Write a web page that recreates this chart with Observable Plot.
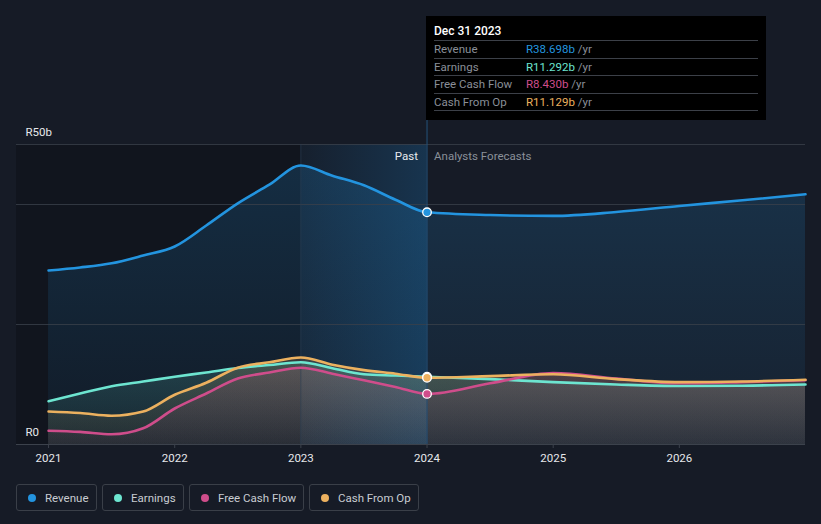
<!DOCTYPE html>
<html>
<head>
<meta charset="utf-8">
<script src="https://cdn.jsdelivr.net/npm/d3@7"></script>
<script src="https://cdn.jsdelivr.net/npm/@observablehq/plot@0.6"></script>
<style>
  html, body { margin: 0; padding: 0; background: #161b26; }
  body { width: 821px; height: 524px; position: relative; overflow: hidden; font-family: Roboto, "Open Sans", sans-serif; }
  #chart { position: absolute; left: 0; top: 0; }
  #tip { position: absolute; left: 426px; top: 16px; width: 340px; height: 104px; background: #000; box-sizing: border-box; padding: 0 8px; }
  #tip .title { color: #fff; font-size: 12px; font-weight: 500; height: 24px; line-height: 30px; border-bottom: 1px solid #3c4048; }
  #tip .row { height: 16.5px; line-height: 17px; font-size: 11.5px; border-bottom: 1px solid #3c4048; position: relative; color: #8a8f98; }
  #tip .row .v { position: absolute; left: 92px; top: 0; }
  #tip .row .u { color: #8a8f98; }
  #legend { position: absolute; left: 16px; top: 484px; display: flex; gap: 5px; }
  .item { height: 27px; box-sizing: border-box; border: 1px solid #3a3f48; border-radius: 3px; display: flex; align-items: center; padding: 0 0 0 11px; color: #c8ccd2; font-size: 11.5px; white-space: nowrap; overflow: hidden; }
  .item .dot { width: 8px; height: 8px; border-radius: 50%; margin-right: 9px; flex: none; }
</style>
</head>
<body>
<div id="chart"></div>
<div id="tip"></div>
<div id="legend"></div>
<script>
// ---- data (values in R billions) ----
const years = [2021.0, 2021.25, 2021.5, 2021.75, 2022.0, 2022.25, 2022.5, 2022.75, 2023.0, 2023.25, 2023.5, 2023.75, 2024.0, 2024.5, 2025.0, 2025.5, 2026.0, 2026.5, 2027.0];
const revenue  = [29.0, 29.5, 30.2, 31.5, 33.0, 36.5, 40.2, 43.3, 46.5, 44.8, 43.2, 40.8, 38.698, 38.25, 38.1, 38.75, 39.75, 40.7, 41.7];
const earnings = [7.2, 8.5, 9.7, 10.5, 11.3, 12.0, 12.75, 13.25, 13.7, 12.7, 11.7, 11.5, 11.292, 10.9, 10.4, 10.0, 9.75, 9.8, 10.0];
const fcf      = [2.3, 2.1, 1.7, 2.7, 6.0, 8.5, 11.0, 12.0, 12.8, 11.8, 10.7, 9.6, 8.430, 10.2, 11.9, 11.0, 10.2, 10.4, 10.7];
const cfo      = [5.5, 5.25, 4.8, 5.5, 8.3, 10.3, 12.8, 13.7, 14.5, 13.3, 12.4, 11.8, 11.129, 11.4, 11.7, 10.9, 10.4, 10.5, 10.8];
const seriesNames = ["Revenue", "Earnings", "Free Cash Flow", "Cash From Op"];
const seriesColors = ["#2394df", "#6de5d0", "#cf4d8b", "#ecb15f"];
const seriesValues = [revenue, earnings, fcf, cfo];
const tickYears = [2021, 2022, 2023, 2024, 2025, 2026];
const yLabels = [{v: 0, label: "R0"}, {v: 50, label: "R50b"}];
const gridValues = [20, 40, 50];
const tipDate = "Dec 31 2023";
const tipValues = ["R38.698b", "R11.292b", "R8.430b", "R11.129b"];
const pastStart = 2023, forecastStart = 2024;
const xDomain = [2020.746, 2027.0];
const yDomain = [0, 50];
const legendWidths = [81, 82, 115, 110];

const tables = seriesValues.map((vals, i) => years.map((x, j) => ({x, y: vals[j], s: seriesNames[i]})));
const nowIdx = years.indexOf(forecastStart);
const areaOpacity = [[0.19, 0.05], [0.17, 0.05], [0.15, 0.05], [0.17, 0.05]];

const defs = () => {
  const ns = "http://www.w3.org/2000/svg";
  const d = document.createElementNS(ns, "defs");
  let s = `<linearGradient id="hl" x1="0" x2="1" y1="0" y2="0">
      <stop offset="0" stop-color="#1a6aa5" stop-opacity="0.06"/>
      <stop offset="1" stop-color="#1a6aa5" stop-opacity="0.32"/>
    </linearGradient>`;
  seriesColors.forEach((c, i) => {
    s += `<linearGradient id="ag${i}" x1="0" x2="0" y1="0" y2="1">
      <stop offset="0" stop-color="${c}" stop-opacity="${areaOpacity[i][0]}"/>
      <stop offset="1" stop-color="${c}" stop-opacity="${areaOpacity[i][1]}"/>
    </linearGradient>`;
  });
  d.innerHTML = s;
  return d;
};

const marks = [
  defs,
  Plot.rect([0], {x1: () => xDomain[0], x2: () => pastStart, y1: () => yDomain[0], y2: () => yDomain[1], fill: "#0c1016", fillOpacity: 0.45}),
  Plot.rect([0], {x1: () => pastStart, x2: () => forecastStart, y1: () => yDomain[0], y2: () => yDomain[1], fill: "url(#hl)"}),
];
tables.forEach((t, i) => {
  marks.push(Plot.areaY(t, {x: "x", y: "y", fill: `url(#ag${i})`, curve: "monotone-x"}));
});
marks.push(
  Plot.ruleY(gridValues, {stroke: "#3a404a", strokeOpacity: 0.8, strokeWidth: 1}),
  Plot.ruleY([0], {stroke: "#3c424c", strokeWidth: 1.2}),
  Plot.ruleX([pastStart], {y1: 0, y2: 50, stroke: "#2a3e52", strokeOpacity: 0.6}),
  Plot.ruleX([forecastStart], {y1: 0, y2: 54.2, stroke: "#24527a", strokeWidth: 1})
);
tables.forEach((t, i) => {
  marks.push(Plot.line(t, {x: "x", y: "y", stroke: seriesColors[i], strokeWidth: 2.6, curve: "monotone-x"}));
});
[0, 1, 2, 3].forEach(i => {
  marks.push(Plot.dot([tables[i][nowIdx]], {x: "x", y: "y", r: 4.3, fill: seriesColors[i], stroke: "#fff", strokeWidth: 1.3}));
});
marks.push(
  Plot.text(yLabels, {frameAnchor: "left", y: "v", text: "label", dx: 9, dy: -12, textAnchor: "start", fill: "#e6e8eb", fontSize: 11.5}),
  Plot.text(["Past"], {x: () => forecastStart, y: () => yDomain[1], text: d => d, textAnchor: "end", dx: -9, dy: 12, fill: "#e8eaee", fontSize: 11.5}),
  Plot.text(["Analysts Forecasts"], {x: () => forecastStart, y: () => yDomain[1], text: d => d, textAnchor: "start", dx: 7, dy: 12, fill: "#8a9099", fontSize: 11.5}),
  Plot.axisX(tickYears, {tickFormat: d => String(d), tickSize: 4, stroke: "#3c424c", color: "#e6e8eb", fontSize: 11.5, tickPadding: 5, label: null})
);

const chart = Plot.plot({
  width: 821,
  height: 470,
  marginTop: 144,
  marginBottom: 26,
  marginLeft: 16,
  marginRight: 16,
  x: {domain: xDomain, axis: null},
  y: {domain: yDomain, axis: null},
  style: {background: "transparent", fontFamily: "Roboto, sans-serif", overflow: "visible"},
  marks
});
document.getElementById("chart").appendChild(chart);

// tooltip
const tip = document.getElementById("tip");
let html = `<div class="title">${tipDate}</div>`;
seriesNames.forEach((n, i) => {
  html += `<div class="row">${n}<span class="v"><span style="color:${seriesColors[i]}">${tipValues[i]}</span><span class="u"> /yr</span></span></div>`;
});
tip.innerHTML = html;

// legend
const legend = document.getElementById("legend");
seriesNames.forEach((n, i) => {
  const el = document.createElement("div");
  el.className = "item";
  el.style.width = legendWidths[i] + "px";
  el.innerHTML = `<span class="dot" style="background:${seriesColors[i]}"></span>${n}`;
  legend.appendChild(el);
});
</script>
</body>
</html>
